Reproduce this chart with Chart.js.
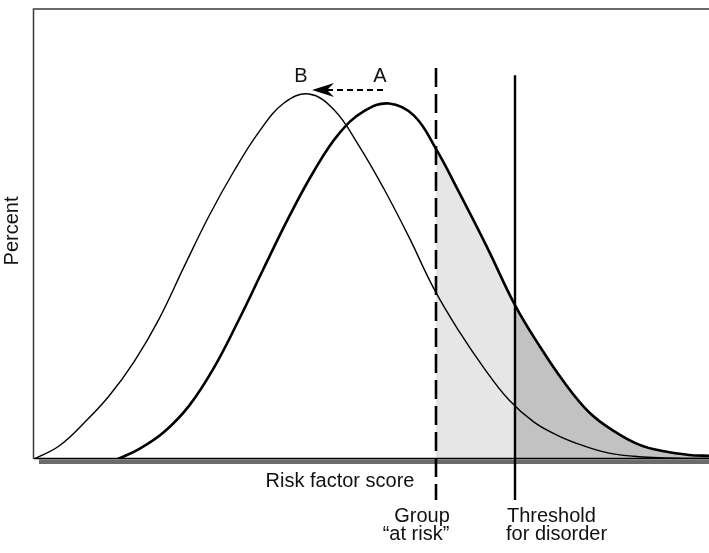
<!DOCTYPE html>
<html>
<head>
<meta charset="utf-8">
<script src="https://cdn.jsdelivr.net/npm/chart.js@4.4.1/dist/chart.umd.min.js"></script>
<style>
  html, body { margin: 0; padding: 0; background: #fff; }
  #wrap { width: 709px; height: 553px; }
</style>
</head>
<body>
<div id="wrap"><canvas id="riskChart" width="709" height="553"></canvas></div>
<script>
// population A (before shift) and B (after shift), risk score vs percent
const scoreA = [16.8, 21, 26, 31, 36, 41, 46, 51, 56, 61, 66, 71, 76, 80.4, 85, 90.6, 96.2, 101, 106, 111, 116, 121, 126, 131, 135];
const percentA = [0, 2.2, 6.0, 11.8, 20.3, 31.0, 42.5, 53.8, 64.0, 72.3, 77.3, 79.0, 76.3, 68.9, 59.3, 47.1, 34.2, 25.3, 17.1, 10.4, 6.2, 3.2, 1.7, 0.9, 0.7];

const scoreB = [0, 5, 10, 15, 20, 25, 30, 35, 40, 45, 50, 55, 60, 65, 70, 75, 80, 85, 90, 95, 100, 105, 110, 115, 120, 125, 130, 135];
const percentB = [0, 2.9, 8.0, 14.0, 21.6, 31.1, 42.7, 54.0, 64.0, 72.7, 79.1, 81.1, 77.6, 69.6, 60.0, 49.3, 37.8, 28.4, 20.2, 13.1, 8.2, 5.1, 2.9, 1.3, 0.6, 0.3, 0.15, 0.1];

const atRiskScore = 80.4;
const thresholdScore = 96.2;
const shiftArrow = { from: 69.8, to: 55.6, level: 82 };
const peakLabels = [
  { text: 'A', score: 69.2, level: 83.8 },
  { text: 'B', score: 53.4, level: 83.8 },
];

const FONT = '"Liberation Sans", Arial, Helvetica, sans-serif';
const toPoints = (xs, ys) => xs.map((x, i) => ({ x, y: ys[i] }));

const overlay = {
  id: 'overlay',
  afterDatasetsDraw(chart) {
    const { ctx, chartArea: area, scales: { x, y } } = chart;
    ctx.save();

    // frame: left + top
    ctx.strokeStyle = '#3a3a3a';
    ctx.lineWidth = 1.5;
    ctx.beginPath();
    ctx.moveTo(area.left - 0.5, area.bottom);
    ctx.lineTo(area.left - 0.5, area.top);
    ctx.lineTo(area.right, area.top);
    ctx.stroke();

    // baseline with grey shadow
    ctx.fillStyle = '#6b6b6b';
    ctx.fillRect(area.left + 5, area.bottom + 0.5, area.right - area.left - 5, 4.5);
    ctx.strokeStyle = '#000';
    ctx.lineWidth = 1.5;
    ctx.beginPath();
    ctx.moveTo(area.left, area.bottom - 0.5);
    ctx.lineTo(area.right, area.bottom - 0.5);
    ctx.stroke();

    // group at risk (dashed) and threshold (solid)
    const lineBottom = y.getPixelForValue(-9.1);
    ctx.strokeStyle = '#000';
    ctx.lineWidth = 2.6;
    ctx.setLineDash([19, 7]);
    ctx.beginPath();
    ctx.moveTo(x.getPixelForValue(atRiskScore), y.getPixelForValue(86.9));
    ctx.lineTo(x.getPixelForValue(atRiskScore), lineBottom);
    ctx.stroke();
    ctx.setLineDash([]);
    ctx.lineWidth = 2.4;
    ctx.beginPath();
    ctx.moveTo(x.getPixelForValue(thresholdScore), y.getPixelForValue(85.3));
    ctx.lineTo(x.getPixelForValue(thresholdScore), lineBottom);
    ctx.stroke();

    // shift arrow A -> B
    const ay = y.getPixelForValue(shiftArrow.level);
    const tip = x.getPixelForValue(shiftArrow.to);
    ctx.lineWidth = 2;
    ctx.setLineDash([6, 4]);
    ctx.beginPath();
    ctx.moveTo(x.getPixelForValue(shiftArrow.from), ay);
    ctx.lineTo(tip + 15, ay);
    ctx.stroke();
    ctx.setLineDash([]);
    ctx.fillStyle = '#000';
    ctx.beginPath();
    ctx.moveTo(tip, ay);
    ctx.lineTo(tip + 22, ay - 7);
    ctx.lineTo(tip + 15, ay);
    ctx.lineTo(tip + 22, ay + 7);
    ctx.closePath();
    ctx.fill();

    // texts
    ctx.fillStyle = '#111';
    ctx.textBaseline = 'alphabetic';
    ctx.font = `20px ${FONT}`;
    ctx.textAlign = 'center';
    peakLabels.forEach(l => ctx.fillText(l.text, x.getPixelForValue(l.score), y.getPixelForValue(l.level)));

    ctx.fillText('Risk factor score', 340, area.bottom + 28);
    const gx = x.getPixelForValue(atRiskScore);
    ctx.fillText('Group', gx - 14, area.bottom + 63);
    ctx.fillText('\u201Cat risk\u201D', gx - 20, area.bottom + 81);
    ctx.textAlign = 'left';
    const tx = x.getPixelForValue(thresholdScore);
    ctx.fillText('Threshold', tx - 8, area.bottom + 63);
    ctx.fillText('for disorder', tx - 9, area.bottom + 81);

    ctx.translate(12, 231);
    ctx.rotate(-Math.PI / 2);
    ctx.textAlign = 'center';
    ctx.textBaseline = 'middle';
    ctx.fillText('Percent', 0, 0);
    ctx.restore();
  },
};

new Chart(document.getElementById('riskChart'), {
  type: 'line',
  data: {
    datasets: [
      {
        label: 'B',
        data: toPoints(scoreB, percentB),
        borderColor: '#000',
        borderWidth: 1.4,
        pointRadius: 0,
        tension: 0.4,
        fill: false,
        order: 0,
      },
      {
        label: 'A',
        data: toPoints(scoreA, percentA),
        borderColor: '#000',
        borderWidth: 2.6,
        pointRadius: 0,
        tension: 0.4,
        backgroundColor: 'rgba(0,0,0,0)',
        fill: 'origin',
        segment: {
          backgroundColor: (c) => {
            const sx = c.p0.parsed.x;
            if (sx >= thresholdScore) return '#c2c2c2';
            if (sx >= atRiskScore) return '#e6e6e6';
            return 'rgba(0,0,0,0)';
          },
        },
        order: 1,
      },
    ],
  },
  options: {
    responsive: false,
    animation: false,
    devicePixelRatio: 1,
    events: [],
    layout: { padding: { left: 34, top: 9, right: 0, bottom: 94 } },
    plugins: { legend: { display: false }, tooltip: { enabled: false } },
    scales: {
      x: { type: 'linear', min: 0, max: 135, display: false },
      y: { min: 0, max: 100, display: false },
    },
  },
  plugins: [overlay],
});
</script>
</body>
</html>
